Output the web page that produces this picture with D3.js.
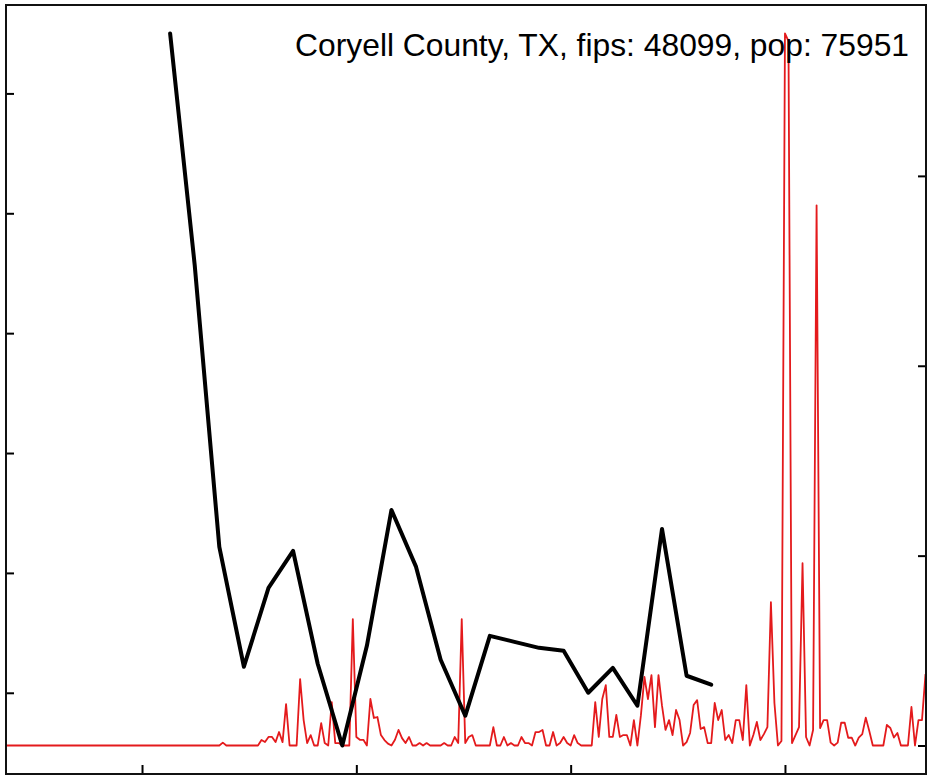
<!DOCTYPE html>
<html>
<head>
<meta charset="utf-8">
<script src="https://cdn.jsdelivr.net/npm/d3@7"></script>
<style>
  body { margin: 0; background: #fff; }
  text { font-family: "Liberation Sans", Arial, sans-serif; }
</style>
</head>
<body>
<div id="draw"></div>
<script>
var title = 'Coryell County, TX, fips: 48099, pop: 75951';

// daily series (red, right axis), starting at dailyStart
var dailyStart = '2020-02-22';
var dailyValues = [
	0, 0, 0, 0, 0, 0, 0, 0, 0, 0, 0, 0, 0, 0, 0, 0, 0, 0, 0, 0,
	0, 0, 0, 0, 0, 0, 0, 0, 0, 0, 0, 0, 0, 0, 0, 0, 0, 0, 0, 0,
	0, 0, 0, 0, 0, 0, 0, 0, 0, 0, 0, 0, 0, 0, 0, 0, 0, 0, 0, 0,
	0, 0, 0.15, 0, 0, 0, 0, 0, 0, 0, 0, 0, 0, 0.29, 0.18, 0.45, 0.45, 0.18, 0.71, 0.18,
	2.18, 0, 0, 0, 3.5, 1.34, 0.13, 0.55, 0, 0, 1.18, 0.13, 0, 2.29, 0.13, 0.13, 0, 0, 0, 6.66,
	0.45, 0.3, 0.3, 0, 2.45, 1.45, 1.5, 0.55, 0.29, 0.1, 0, 0.3, 0.82, 0.39, 0.13, 0.45, 0, 0, 0.13, 0,
	0.13, 0, 0, 0, 0, 0.13, 0, 0, 0.45, 0.13, 6.66, 0.13, 0.45, 0.55, 0, 0, 0, 0, 0, 0.97,
	0, 0, 0.45, 0, 0.13, 0, 0, 0.45, 0.13, 0.13, 0, 0.71, 0.71, 0.82, 0, 0, 0.71, 0, 0.13, 0.45,
	0.13, 0, 0.55, 0.13, 0, 0, 0, 0, 2.29, 0.45, 2.45, 3.18, 0.45, 0.45, 1.61, 0.45, 0.55, 0.55, 0, 1.34,
	0, 1.6, 3.61, 2.45, 3.71, 0.97, 3.71, 2.1, 0.82, 1.34, 0.55, 1.87, 1.34, 0, 0.18, 0.66, 2.13, 2.39, 0.87, 0.97,
	0.13, 0.13, 2.24, 1.34, 1.87, 0.29, 0.55, 0.13, 1.34, 1.34, 0.29, 3.18, 0, 0.55, 1.24, 0.29, 0.6, 0.97, 7.55, 2.24,
	0, 0.24, 37.5, 37.1, 0.13, 0.55, 0.97, 9.6, 0.45, 0, 0.82, 28.45, 0.92, 1.34, 1.34, 0.15, 0, 0.15, 1.2, 1.2,
	0.41, 0.41, 0, 0.41, 0.6, 1.47, 0.76, 0, 0, 0, 0, 1.08, 0.92, 0.42, 0.66, 0, 0, 0, 2.03, 0,
	1.34, 1.34, 3.76
];

// weekly series (black, left axis), starting at weeklyStart
var weeklyStart = '2020-04-09';
var weeklyValues = [
	65.0, 45.67, 22.17, 12.17, 18.75, 21.83, 12.42, 5.6, 13.92, 25.25,
	20.5, 12.75, 8.08, 14.75, 14.25, 13.75, 13.5, 10.0, 12.08, 8.92,
	23.67, 11.42, 10.67
];

var leftTicks = [10, 20, 30, 40, 50, 60];
var rightTicks = [0, 10, 20, 30];
var dateTicks = ['2020-04-01', '2020-06-01', '2020-08-01', '2020-10-01'];

var W = 933, H = 778;
var box = { left: 6, top: 5, right: 926, bottom: 774 };

var parse = d3.timeParse('%Y-%m-%d');

var daily = dailyValues.map(function (v, i) {
	return { date: d3.timeDay.offset(parse(dailyStart), i), value: v };
});
var weekly = weeklyValues.map(function (v, i) {
	return { date: d3.timeDay.offset(parse(weeklyStart), i * 7), value: v };
});

// R-style 4% padding around the data range
function padded(values) {
	var ext = d3.extent(values);
	var pad = (ext[1] - ext[0]) * 0.04;
	return [ext[0] - pad, ext[1] + pad];
}

var x = d3
	.scaleTime()
	.domain([daily[0].date, daily[daily.length - 1].date])
	.range([5, 925.5]);

var yLeft = d3.scaleLinear().domain(padded(weeklyValues)).range([box.bottom, box.top]);
var yRight = d3.scaleLinear().domain(padded(dailyValues)).range([box.bottom, box.top]);

var svg = d3
	.select('#draw')
	.append('svg')
	.attr('width', W)
	.attr('height', H);

svg
	.append('clipPath')
	.attr('id', 'plotclip')
	.append('rect')
	.attr('x', box.left)
	.attr('y', box.top)
	.attr('width', box.right - box.left)
	.attr('height', box.bottom - box.top);

var plot = svg.append('g').attr('clip-path', 'url(#plotclip)');

plot
	.append('path')
	.datum(daily)
	.attr(
		'd',
		d3
			.line()
			.x(function (d) { return x(d.date); })
			.y(function (d) { return yRight(d.value); })
	)
	.style('fill', 'none')
	.style('stroke', '#e41a1c')
	.style('stroke-width', 1.8)
	.style('stroke-linejoin', 'round');

plot
	.append('path')
	.datum(weekly)
	.attr(
		'd',
		d3
			.line()
			.x(function (d) { return x(d.date); })
			.y(function (d) { return yLeft(d.value); })
	)
	.style('fill', 'none')
	.style('stroke', '#000')
	.style('stroke-width', 4)
	.style('stroke-linejoin', 'round')
	.style('stroke-linecap', 'round');

// axes: tick marks only, pointing into the plot
function styleAxis(g) {
	g.select('.domain').remove();
	g.selectAll('.tick line').style('stroke', '#000').style('stroke-width', 2);
}

svg
	.append('g')
	.attr('transform', 'translate(' + box.left + ',0)')
	.call(d3.axisRight(yLeft).tickValues(leftTicks).tickSize(8).tickFormat(''))
	.call(styleAxis);

svg
	.append('g')
	.attr('transform', 'translate(' + box.right + ',0)')
	.call(d3.axisLeft(yRight).tickValues(rightTicks).tickSize(8).tickFormat(''))
	.call(styleAxis);

svg
	.append('g')
	.attr('transform', 'translate(0,' + box.bottom + ')')
	.call(d3.axisTop(x).tickValues(dateTicks.map(parse)).tickSize(9).tickFormat(''))
	.call(styleAxis);

svg
	.append('rect')
	.attr('x', box.left)
	.attr('y', box.top)
	.attr('width', box.right - box.left)
	.attr('height', box.bottom - box.top)
	.style('fill', 'none')
	.style('stroke', '#111')
	.style('stroke-width', 2);

svg
	.append('text')
	.attr('x', 909)
	.attr('y', 56)
	.attr('text-anchor', 'end')
	.style('font-size', '31.8px')
	.style('fill', '#000')
	.text(title);
</script>
</body>
</html>
